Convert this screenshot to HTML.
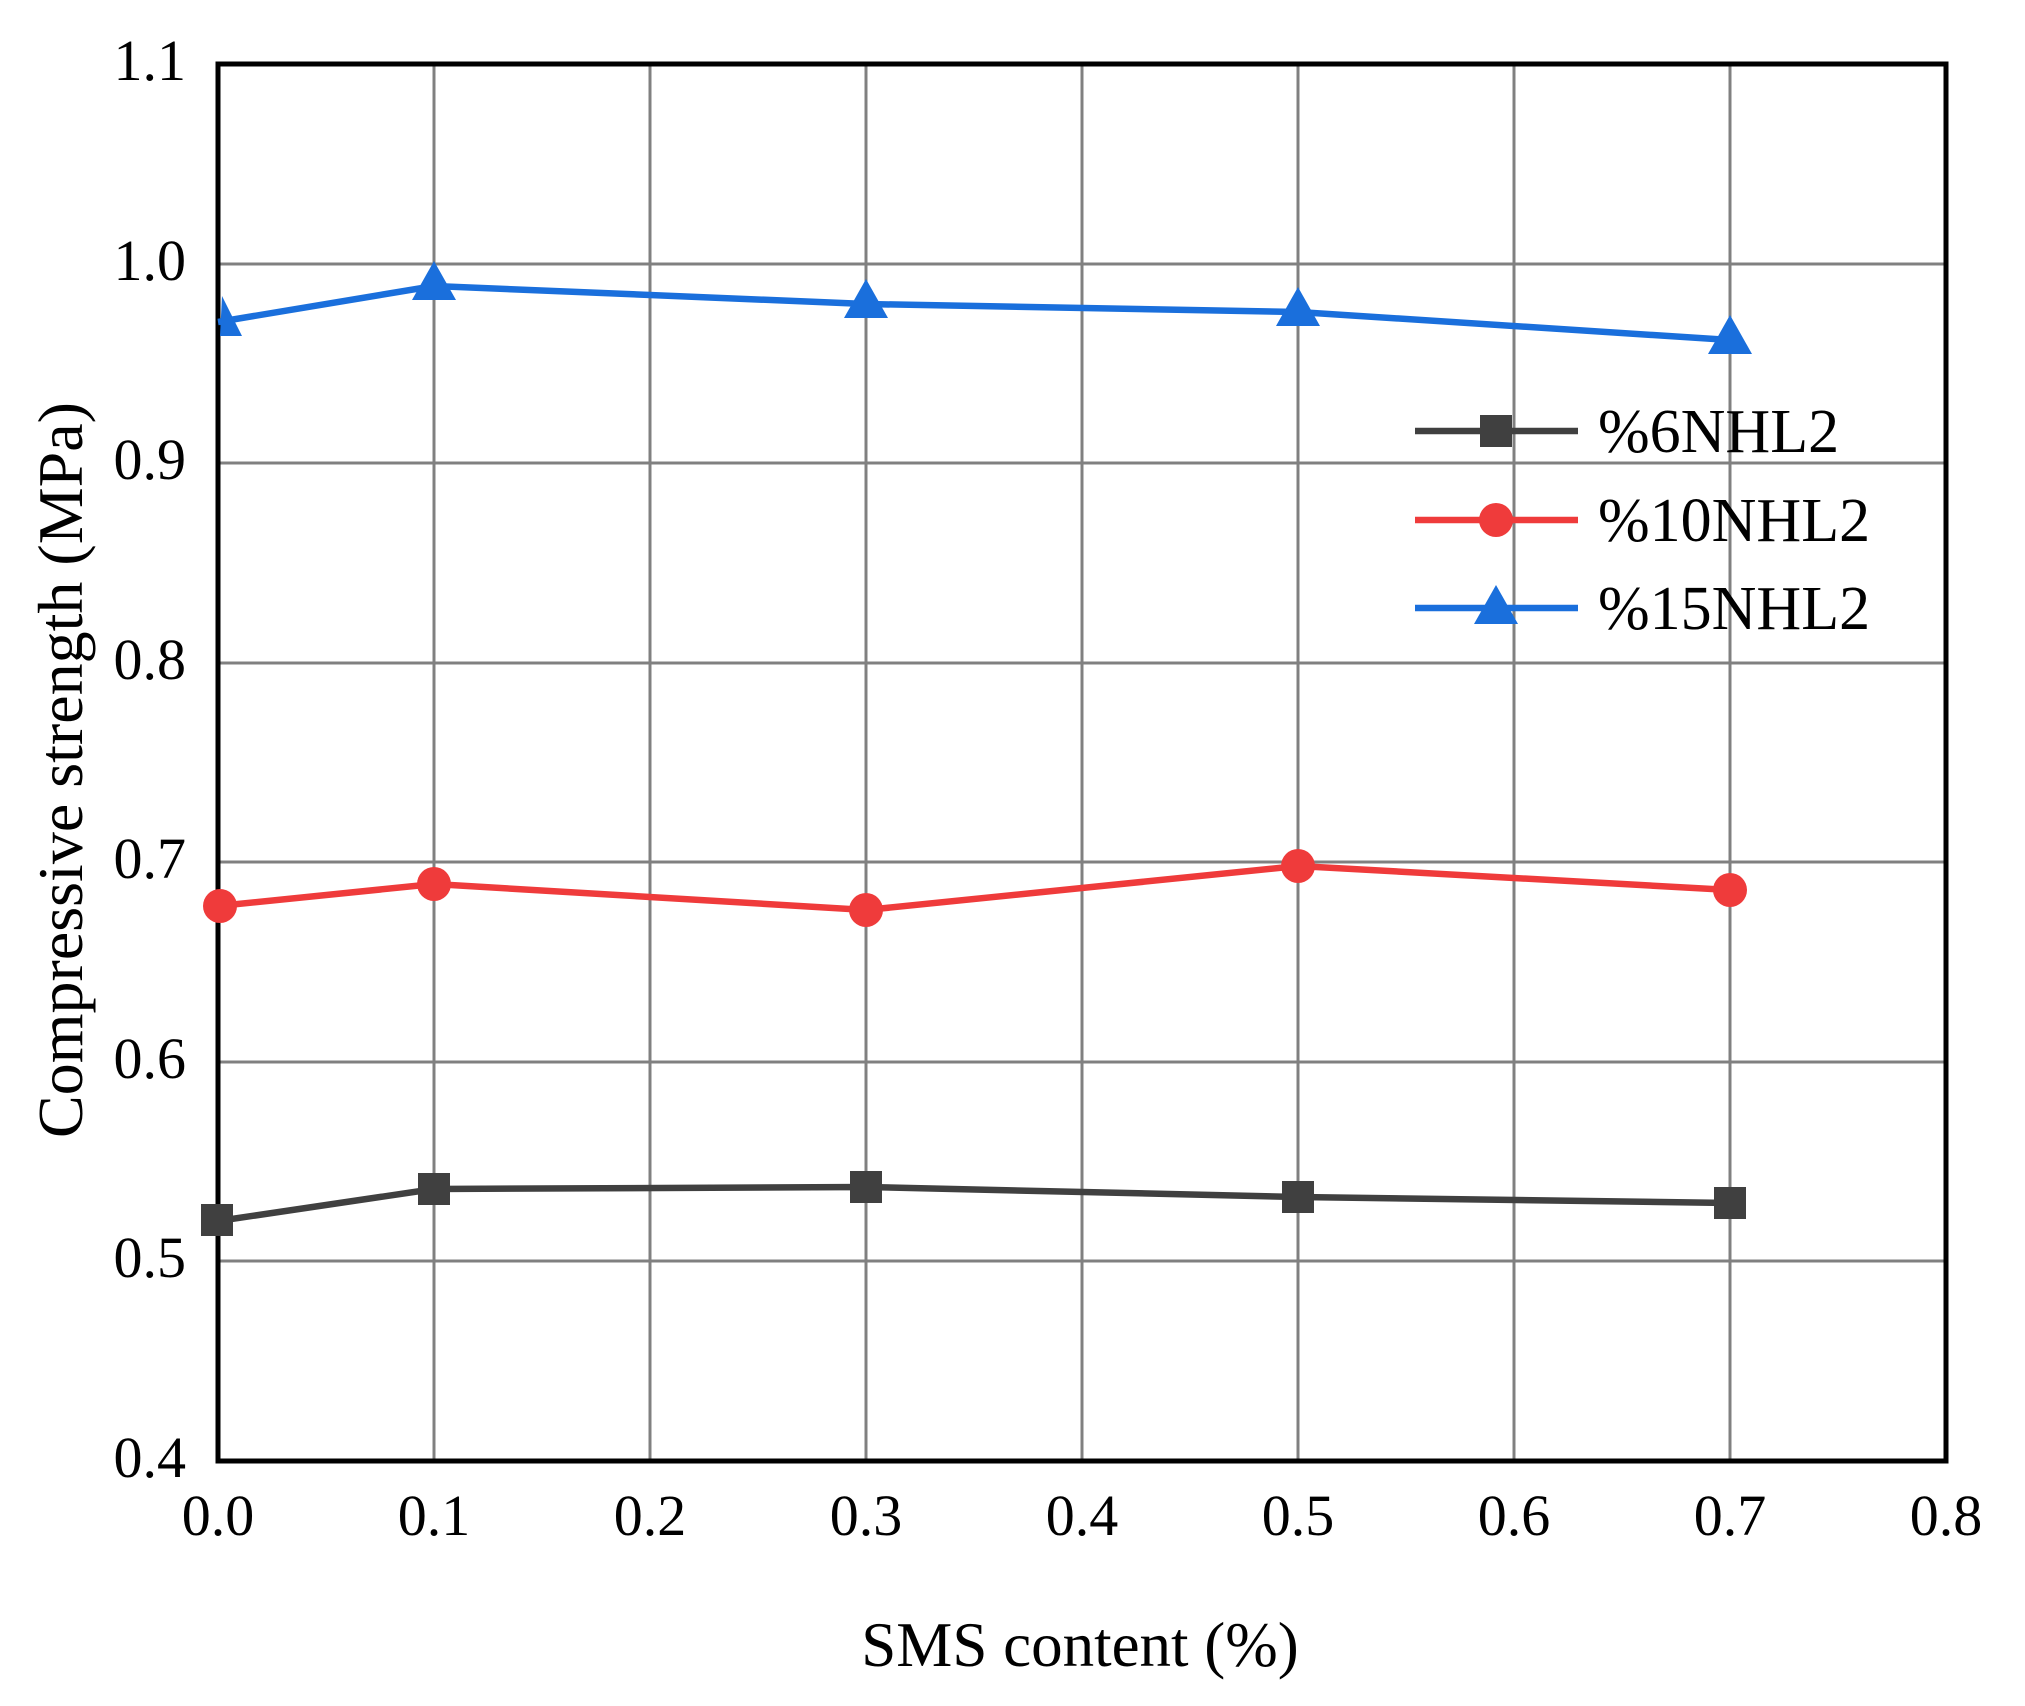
<!DOCTYPE html>
<html><head><style>body{margin:0;background:#fff}</style></head><body>
<svg width="2025" height="1701" xmlns="http://www.w3.org/2000/svg" font-family="'Liberation Serif',serif">
<rect width="2025" height="1701" fill="#fff"/>
<g stroke="#808080" stroke-width="3">
<line x1="434" y1="64" x2="434" y2="1461"/><line x1="650" y1="64" x2="650" y2="1461"/>
<line x1="866" y1="64" x2="866" y2="1461"/><line x1="1082" y1="64" x2="1082" y2="1461"/>
<line x1="1298" y1="64" x2="1298" y2="1461"/><line x1="1514" y1="64" x2="1514" y2="1461"/>
<line x1="1730" y1="64" x2="1730" y2="1461"/>
<line x1="218" y1="264" x2="1946" y2="264"/><line x1="218" y1="463" x2="1946" y2="463"/>
<line x1="218" y1="663" x2="1946" y2="663"/><line x1="218" y1="862" x2="1946" y2="862"/>
<line x1="218" y1="1062" x2="1946" y2="1062"/><line x1="218" y1="1261" x2="1946" y2="1261"/>
</g>
<rect x="218" y="64" width="1728" height="1397" fill="none" stroke="#000" stroke-width="5"/>
<g font-size="58" text-anchor="end">
<text x="186" y="80">1.1</text><text x="186" y="280">1.0</text><text x="186" y="479">0.9</text>
<text x="186" y="679">0.8</text><text x="186" y="878">0.7</text><text x="186" y="1078">0.6</text>
<text x="186" y="1277">0.5</text><text x="186" y="1477">0.4</text>
</g>
<g font-size="58" text-anchor="middle">
<text x="218" y="1535">0.0</text><text x="434" y="1535">0.1</text><text x="650" y="1535">0.2</text>
<text x="866" y="1535">0.3</text><text x="1082" y="1535">0.4</text><text x="1298" y="1535">0.5</text>
<text x="1514" y="1535">0.6</text><text x="1730" y="1535">0.7</text><text x="1946" y="1535">0.8</text>
</g>
<text x="1080" y="1666" font-size="63" text-anchor="middle">SMS content (%)</text>
<text transform="translate(82,770) rotate(-90)" font-size="64" text-anchor="middle">Compressive strength (MPa)</text>
<polyline fill="none" stroke="#404040" stroke-width="6.5" points="218,1221 434,1189 866,1187 1298,1197 1730,1203"/>
<g fill="#404040"><rect x="201" y="1204" width="32" height="32"/><rect x="418" y="1173" width="32" height="32"/><rect x="850" y="1171" width="32" height="32"/><rect x="1282" y="1181" width="32" height="32"/><rect x="1714" y="1187" width="32" height="32"/></g>
<polyline fill="none" stroke="#ef3b3b" stroke-width="6.5" points="218,906 434,884 866,910 1298,866 1730,890"/>
<g fill="#ef3b3b"><circle cx="220" cy="906" r="17"/><circle cx="434" cy="884" r="17"/><circle cx="866" cy="910" r="17"/><circle cx="1298" cy="866" r="17"/><circle cx="1730" cy="890" r="17"/></g>
<polyline fill="none" stroke="#1a6fdc" stroke-width="6.5" points="218,322 434,286 866,304 1298,312 1730,340"/>
<g fill="#1a6fdc">
<polygon points="222,296 242,336 220,336"/><polygon points="434,261 456,300 412,300"/><polygon points="866,279 888,318 844,318"/><polygon points="1298,287 1320,326 1276,326"/><polygon points="1730,315 1752,354 1708,354"/></g>
<line x1="1415" y1="431" x2="1578" y2="431" stroke="#404040" stroke-width="6.5"/><rect x="1480" y="415" width="32" height="32" fill="#404040"/>
<line x1="1415" y1="520" x2="1578" y2="520" stroke="#ef3b3b" stroke-width="6.5"/><circle cx="1496" cy="520" r="17" fill="#ef3b3b"/>
<line x1="1415" y1="608" x2="1578" y2="608" stroke="#1a6fdc" stroke-width="6.5"/><polygon points="1496,585 1518,624 1474,624" fill="#1a6fdc"/>
<g font-size="62"><text x="1598" y="452">%6NHL2</text><text x="1598" y="541">%10NHL2</text><text x="1598" y="629">%15NHL2</text></g>
</svg>
</body></html>
